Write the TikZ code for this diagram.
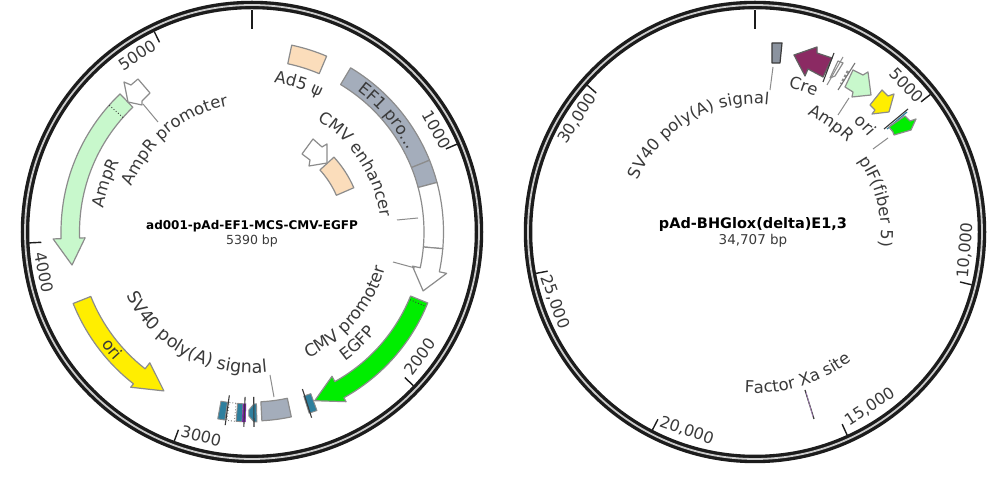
\documentclass[tikz,border=0pt]{standalone}
\usepackage{fontspec}
\setmainfont{DejaVu Sans}
\usetikzlibrary{decorations.text}
\definecolor{labelc}{HTML}{3A3A3A}
\definecolor{ringc}{HTML}{1C1C1C}
\definecolor{edgec}{HTML}{8C8C8C}
\definecolor{greybox}{HTML}{A4ADBB}
\definecolor{peach}{HTML}{FBDDBB}
\definecolor{paleg}{HTML}{C8F8CC}
\definecolor{brightg}{HTML}{00EE00}
\definecolor{yel}{HTML}{FFEE00}
\definecolor{teal1}{HTML}{2E7F9E}
\definecolor{purp}{HTML}{7A1FA8}
\definecolor{cre}{HTML}{8B2A63}
\tikzset{
  feat/.style={draw=edgec,line width=1.2pt,line join=round},
  leader/.style={draw=edgec,line width=1pt},
  bar/.style={draw=labelc,line width=1.1pt},
  ticklab/.style={font=\fontsize{16}{16}\selectfont,text=labelc,inner sep=0pt},
  titlelab/.style={font=\fontsize{12}{14}\selectfont\bfseries,text=black,inner sep=0pt},
  sizelab/.style={font=\fontsize{12.5}{14}\selectfont,text=labelc,inner sep=0pt},
}
% clock angles: 0 at the top, growing clockwise
\newcommand\arcbox[5][]{\path[feat,#1] (90-#2:#4) arc[start angle=90-#2,end angle=90-#3,radius=#4] -- (90-#3:#5) arc[start angle=90-#3,end angle=90-#2,radius=#5] -- cycle;}
% [style]{c0}{c1}{ri}{ro}{ctip}{rtip}{wi}{wo}
\newcommand\arcarrow[9][]{\path[feat,#1] (90-#2:#5) arc[start angle=90-#2,end angle=90-#3,radius=#5] -- (90-#3:#9) -- (90-#6:#7) -- (90-#3:#8) -- (90-#3:#4) arc[start angle=90-#3,end angle=90-#2,radius=#4] -- cycle;}
\newcommand\curvetext[5][16.5]{\path[decorate,decoration={text along path,text align=center,text={|\fontsize{#1}{16}\selectfont\color{labelc}|#5}}] (90-#3:#2) arc[start angle=90-#3,end angle=90-#4,radius=#2];}
\newcommand\ringdraw{%
  \draw[ringc,line width=8.5pt] (0,0) circle[radius=227];
  \draw[white!80!black,line width=1.8pt] (0,0) circle[radius=227];
  \draw[ringc,line width=2.5pt] (90:222) -- (90:203);
}
\newcommand\tickmark[1]{\draw[ringc,line width=1.4pt] (90-#1:223) -- (90-#1:211);}
\newcommand\radial[3]{\draw[bar] (90-#1:#2) -- (90-#1:#3);}
\begin{document}
\begin{tikzpicture}[x=1pt,y=1pt]
\useasboundingbox (0,0) rectangle (1007,500);
\fill[white] (0,0) rectangle (1007,500);

%%% LEFT MAP
\begin{scope}[shift={(252,268)}]
\ringdraw
\tickmark{66.8}\tickmark{133.6}\tickmark{200.4}\tickmark{267.2}\tickmark{334}
\node[ticklab,rotate=-61] (l1000) at (90-61:211) {1000};
\node[ticklab,rotate=53.4] (l2000) at (90-126.6:209) {2000};
\node[ticklab,rotate=-14] (l3000) at (90-194:210.5) {3000};
\node[ticklab,rotate=-79] (l4000) at (90-259:212) {4000};
\node[ticklab,rotate=33] (l5000) at (90-327:211) {5000};
\node[titlelab] (ltitle) at (0,6) {ad001-pAd-EF1-MCS-CMV-EGFP};
\node[sizelab] (lsize) at (0,-9) {5390 bp};
% features
\arcbox[fill=peach]{12}{23}{172}{191}
\arcbox[fill=greybox]{31}{68}{172}{191.5}
\arcbox[fill=greybox]{68}{75}{172}{191.5}
\arcbox[fill=white]{75}{95}{172}{191.5}
\arcarrow[fill=white]{95}{102}{172}{191.5}{109}{181}{164}{199}
\arcbox[fill=peach]{47.6}{66.5}{92}{111}
\arcarrow[fill=brightg]{112}{151}{171}{189.5}{159.6}{180}{165}{194}
\draw[labelc,dotted,line width=0.9pt] (90-113.2:172) -- (90-113.2:189);
\arcarrow[fill=paleg]{316.3}{268}{172.5}{191}{259.6}{183}{167}{199}
\draw[labelc,dotted,line width=0.9pt] (90-311.6:172.5) -- (90-311.6:191);
\arcarrow[fill=yel]{248.2}{218}{173.6}{192.6}{209}{181.7}{166}{197}
\arcbox[fill=greybox]{168}{177}{170}{189}
% small features, bottom
\arcbox[fill=teal1,line width=.9pt]{160}{162.5}{172}{190}
\radial{162.2}{165}{195}
\arcbox[fill=teal1,line width=.9pt]{188.2}{190.4}{172}{190}
\arcbox[fill=white,draw=labelc!70,line width=.9pt,dotted]{185.3}{187.6}{172}{190}
\radial{187.9}{165}{195}
\arcbox[fill=teal1,line width=.9pt]{183}{184.8}{172}{190}
\arcbox[fill=purp,draw=purp,line width=.5pt]{182}{182.9}{172}{190}
\radial{182.4}{165}{195}
\path[feat,fill=teal1,line width=.9pt] (90-179.4:172) -- (90-181:178) -- (90-181:184) -- (90-179.4:190) -- (90-178.5:190) -- (90-178.5:172) -- cycle;
\radial{179.4}{165}{195}
% curved labels
\curvetext{176}{36}{63}{EF1 pro...}
\curvetext{151}{7}{28}{Ad5 ψ}
\curvetext{129}{29}{85}{CMV enhancer}
\curvetext[17]{138}{156}{105}{CMV promoter}
\curvetext{159}{143}{130}{EGFP}
\curvetext[17.5]{141}{245}{172}{SV40 poly(A) signal}
\curvetext{150}{279}{298}{AmpR}
\curvetext{128.5}{290}{350}{AmpR promoter}
\curvetext{188}{237}{223}{ori}
\end{scope}
\begin{scope}[shift={(0,500)},yscale=-1]
\path[feat,fill=white] (138,79) -- (150,93) -- (142,101) -- (142,105) -- (128,102) -- (124,82) -- (131,85) -- cycle;
\path[feat,fill=white] (313,139) -- (322,147) -- (327,144) -- (327,163) -- (309,166) -- (310,160) -- (302,154) -- cycle;
\coordinate (lpa) at (143,104); \coordinate (lpb) at (158,122);
\coordinate (lea) at (397,220); \coordinate (leb) at (418,218);
\coordinate (lca) at (393,262); \coordinate (lcb) at (415,268);
\coordinate (lsa) at (270,375); \coordinate (lsb) at (274,397);
\draw[leader] (lpa) -- (lpb);
\draw[leader] (lea) -- (leb);
\draw[leader] (lca) -- (lcb);
\draw[leader] (lsa) -- (lsb);
\end{scope}

%%% RIGHT MAP
\begin{scope}[shift={(755,268)}]
\ringdraw
\tickmark{51.9}\tickmark{103.7}\tickmark{155.6}\tickmark{207.4}\tickmark{259.3}\tickmark{311.2}
\node[ticklab,rotate=-46] (r5) at (90-46:211) {5000};
\node[ticklab,rotate=85] (r10) at (90-95:211) {10,000};
\node[ticklab,rotate=33] (r15) at (90-146.7:209) {15,000};
\node[ticklab,rotate=-19] (r20) at (90-199:210) {20,000};
\node[ticklab,rotate=-70.7] (r25) at (90-250.7:212) {25,000};
\node[ticklab,rotate=57.4] (r30) at (90-302.6:211) {30,000};
\node[titlelab,font=\fontsize{14.5}{16}\selectfont\bfseries] (rtitle) at (-2,7) {pAd-BHGlox(delta)E1,3};
\node[sizelab,font=\fontsize{13.5}{16}\selectfont] (rsize) at (-2,-9) {34,707 bp};
\curvetext{128}{293}{367}{SV40 poly(A) signal}
\curvetext{148}{13}{24}{Cre}
\curvetext{128.5}{24}{46}{AmpR}
\curvetext{148}{42}{50}{ori}
\curvetext{126}{55}{97}{pIF(fiber 5)}
\curvetext{161}{185}{142}{Factor Xa site}
\end{scope}
\begin{scope}[shift={(0,500)},yscale=-1]
\path[feat,fill=greybox!85!black,draw=labelc] (772,43) -- (782,43) -- (780,63) -- (772,63) -- cycle;
\path[feat,fill=cre,draw=labelc!80] (794,55) -- (817,47) -- (817,53) -- (832,58) -- (823,77) -- (808,69) -- (805,76) -- cycle;
\draw[bar] (834,53) -- (823,82);
\path[feat,fill=white] (838,61) -- (843,63) -- (835,76) -- (830,78) -- cycle;
\draw[leader] (843,57) -- (827,85);
\draw[leader,line width=2.5pt,dotted] (848,71) -- (841,84);
\draw[bar,draw=labelc!70] (855,63) -- (838,90);
\path[feat,fill=paleg] (853,70) -- (863,75) -- (868,72) -- (871,95) -- (852,97) -- (853,92) -- (845,87) -- cycle;
\path[feat,fill=yel] (882,90) -- (888,96) -- (894,94) -- (889,112) -- (872,114) -- (875,110) -- (870,105) -- cycle;
\draw[draw=teal1,line width=1.2pt] (907,112) -- (887,129);
\draw[bar] (908,109) -- (884,129);
\path[feat,fill=brightg] (905,116) -- (910,121) -- (916,119) -- (911,130) -- (894,135) -- (893,132) -- (889,127) -- cycle;
\draw[draw=labelc,line width=1.2pt] (805,390) -- (814,419);
\draw[draw=purp!50,line width=.5pt] (806,392) -- (813,417);
\coordinate (rsa) at (773,67); \coordinate (rsb) at (770,90);
\coordinate (raa) at (849,98); \coordinate (rab) at (838,115);
\coordinate (rfa) at (888,138); \coordinate (rfb) at (873,149);
\draw[leader] (rsa) -- (rsb);
\draw[leader] (raa) -- (rab);
\draw[leader] (rfa) -- (rfb);
\end{scope}
\end{tikzpicture}
\end{document}
